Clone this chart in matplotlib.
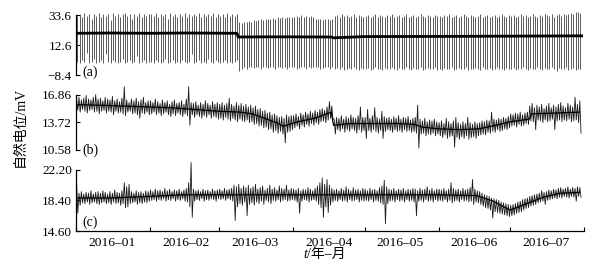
import matplotlib
matplotlib.use('Agg')
import matplotlib.pyplot as plt
import matplotlib.dates as md
import matplotlib.ticker as mt
import numpy as np
import pandas as pd

plt.rcParams['font.family'] = ['Liberation Serif', 'Noto Sans CJK SC']

# ---- panel (a): daily spike tops / bottoms, plus the baseline ----
a_top = (
    [33, 34, 32, 35, 33, 34, 31, 34, 33, 35, 32, 34, 33, 34, 30, 35, 33, 34, 32, 34,
     35, 33, 34, 31, 34, 33, 35, 32, 34, 33, 34] +
    [34, 33, 35, 32, 34, 33, 34, 31, 35, 33, 34, 32, 34, 33, 35, 32, 34, 33, 34, 33,
     35, 32, 34, 33, 34, 33, 35, 32, 34] +
    [33, 34, 32, 35, 33, 34, 33, 34, 28.5, 28, 29, 28.5, 29.5, 29, 30, 29.5, 30, 30.5,
     30, 31, 30.5, 31, 31.5, 31, 32, 31.5, 32, 31.5, 32.5, 32, 32.5] +
    [32.5, 33, 32, 33.5, 32.5, 33, 32, 33, 32.5, 31, 30.5, 31, 30, 30.5, 31, 30, 30.5,
     33, 33.5, 32.5, 34, 33, 33.5, 32.5, 33, 34, 32.5, 33.5, 33, 32] +
    [33, 33.5, 32.5, 33, 34, 32.5, 33.5, 33, 32, 33.5, 33, 34, 32.5, 33, 33.5, 32, 33,
     34, 32.5, 33, 33.5, 32.5, 33, 34, 33, 32.5, 33.5, 33, 32, 33.5, 33] +
    [33, 32.5, 33.5, 33, 34, 32.5, 33, 33.5, 32, 33, 34, 33, 32.5, 33.5, 33, 32, 33,
     34, 32.5, 33, 33.5, 32.5, 33, 33.5, 32, 33, 34, 33, 32.5, 33.5] +
    [33, 33.5, 32.5, 33, 34, 33, 33.5, 32.5, 33, 34, 33, 32.5, 33.5, 33, 34, 33.5, 33,
     34, 32.5, 33.5, 34, 33, 34.5, 33.5, 34, 35, 34.5, 35.5, 36, 35]
)
a_bot = (
    [1, 0, 2, 1, 7, 0, 1, 3, 0, 1, 2, 0, 6, 1, 0, 2, 1, 0, 1, 3, 0, 1, 2, 0, 1, 5, 0,
     1, 2, 0, 1] +
    [1, 0, 2, 1, 0, 1, 3, 0, 1, 2, 0, 1, 0, 2, 1, 0, 1, 6, 0, 1, 2, 0, 1, 0, 3, 1, 0,
     2, 1] +
    [0, 1, 2, 0, 1, 0, 1, 2, -5.5, -4, -3, -4, -2.5, -3, -3.5, -2.5, -3, -4, -2.5, -3,
     -3.5, -2.5, -3, -4, -3, -2.5, -3.5, -3, -4, -2.5, -3] +
    [-3, -4, -3.5, -2.5, -3, -4, -3, -3.5, -2.5, -3, -3, -4, -3.5, -3, -2.5, -4, -3,
     -4.5, -3.5, -4, -3, -5, -4, -3.5, -4.5, -3, -4, -5, -3.5, -4] +
    [-4, -3.5, -5, -4, -3, -4.5, -4, -5, -3.5, -4, -4.5, -3, -4, -5, -3.5, -4, -4.5,
     -3, -4, -5, -3.5, -4, -4.5, -3, -5, -4, -3.5, -4.5, -4, -3, -5] +
    [-4, -5, -3.5, -4, -4.5, -3, -5, -4, -3.5, -4.5, -4, -3, -5, -4, -4.5, -3.5, -4,
     -5, -3, -4.5, -4, -3.5, -5, -4, -3, -4.5, -4, -5, -3.5, -4] +
    [-4, -3.5, -5, -4, -4.5, -3, -4, -5, -3.5, -4, -4.5, -3, -4, -5, -3.5, -4, -4.5,
     -3, -4, -5.5, -3.5, -4, -4.5, -3, -5, -4, -3.5, -5, -4.5, -4]
)
a_base_dates = ['2016-01-01 00:00', '2016-01-15 00:00', '2016-02-01 00:00',
                '2016-02-15 00:00', '2016-03-08 12:00', '2016-03-09 00:00',
                '2016-03-20 00:00', '2016-04-01 00:00', '2016-04-17 00:00',
                '2016-04-18 00:00', '2016-05-01 00:00', '2016-06-01 00:00',
                '2016-07-01 00:00', '2016-07-31 00:00']
a_base = [20.8, 21.0, 20.8, 21.0, 20.8, 18.2, 18.3, 18.3, 18.2, 17.6, 18.5, 18.6, 18.8, 19.0]

# ---- panel (b): daily max / min and the running level ----
b_hi = (
    [16.4, 16.6, 16.3, 16.5, 16.8, 16.4, 16.3, 16.6, 16.9, 16.4, 16.5, 16.2, 16.6, 16.4,
     16.3, 16.7, 16.2, 16.4, 16.1, 16.5, 17.8, 16.3, 16.0, 16.4, 16.2, 16.5, 16.1, 16.3,
     16.6, 16.0, 16.2] +
    [16.2, 16.0, 16.4, 16.1, 15.9, 16.3, 16.0, 16.2, 15.8, 16.1, 16.3, 15.9, 16.0, 16.2,
     15.8, 16.4, 17.8, 16.0, 15.9, 16.1, 15.7, 16.0, 15.8, 16.2, 15.9, 15.7, 16.1, 15.8,
     16.0] +
    [15.8, 16.0, 15.7, 15.9, 16.5, 15.8, 15.6, 16.0, 15.7, 15.9, 15.6, 15.8, 15.5, 15.7,
     15.4, 15.6, 15.2, 15.3, 15.0, 15.1, 14.8, 14.9, 14.6, 14.7, 14.5, 14.3, 14.4, 14.2,
     14.6, 14.4, 14.5] +
    [14.5, 14.7, 14.4, 14.8, 14.6, 14.9, 14.7, 15.0, 14.8, 15.1, 14.9, 15.2, 15.3, 15.1,
     15.5, 16.1, 15.6, 14.1, 14.3, 14.2, 14.5, 14.1, 14.4, 14.2, 14.6, 14.3, 14.2, 14.5,
     15.5, 14.3] +
    [14.3, 15.2, 14.2, 14.5, 15.4, 14.3, 14.1, 15.0, 14.4, 14.2, 14.3, 14.1, 14.4, 14.2,
     14.5, 14.1, 14.3, 14.2, 14.4, 14.0, 14.2, 14.3, 15.7, 14.1, 13.9, 14.2, 13.8, 14.0,
     13.9, 14.1, 13.8] +
    [13.7, 13.9, 13.6, 14.2, 13.8, 13.6, 13.9, 14.3, 13.7, 13.5, 13.8, 13.6, 14.3, 13.7,
     13.5, 13.8, 13.6, 13.7, 13.9, 13.8, 14.0, 13.9, 14.9, 14.1, 14.0, 14.2, 14.1, 14.3,
     14.2, 14.4] +
    [14.7, 14.6, 14.8, 14.7, 14.9, 14.6, 14.8, 14.9, 15.6, 15.9, 15.4, 15.7, 15.5, 15.8,
     15.3, 15.6, 15.9, 15.4, 15.7, 15.5, 15.8, 16.0, 15.6, 15.4, 15.9, 15.7, 15.5, 16.6,
     15.8, 16.2]
)
b_lo = (
    [15.1, 14.9, 15.2, 15.0, 14.8, 15.1, 15.2, 14.9, 15.0, 14.7, 15.0, 15.1, 14.8, 15.0,
     14.9, 14.6, 15.0, 14.8, 14.9, 14.7, 14.5, 14.9, 15.0, 14.7, 14.8, 14.6, 14.2, 14.8,
     14.7, 14.9, 14.6] +
    [14.7, 14.9, 14.6, 14.8, 14.5, 14.7, 14.9, 14.6, 14.4, 14.7, 14.5, 14.8, 14.6, 14.4,
     14.7, 14.5, 13.4, 14.6, 14.3, 14.6, 14.4, 14.2, 14.5, 14.3, 14.6, 14.2, 14.4, 14.3,
     14.1] +
    [14.2, 14.0, 14.3, 14.1, 13.9, 14.2, 14.0, 13.8, 14.1, 13.9, 13.8, 14.0, 13.7, 13.8,
     13.5, 13.6, 13.3, 13.4, 13.1, 13.2, 12.9, 13.0, 12.6, 12.8, 12.5, 12.7, 12.4, 11.4,
     12.6, 12.7, 12.9] +
    [13.1, 13.3, 13.0, 13.4, 13.2, 13.5, 13.3, 13.6, 13.4, 13.7, 13.5, 13.8, 13.9, 13.7,
     14.0, 14.2, 14.1, 12.4, 12.9, 12.7, 13.0, 12.6, 12.9, 12.7, 13.0, 12.8, 12.5, 12.9,
     12.6, 12.8] +
    [11.9, 12.8, 12.6, 12.9, 12.7, 12.5, 12.8, 11.9, 12.7, 12.9, 12.8, 12.6, 12.9, 12.7,
     12.8, 12.6, 12.9, 12.7, 12.8, 12.6, 12.7, 12.5, 10.8, 12.4, 12.5, 12.2, 12.4, 12.3,
     12.5, 12.2, 12.4] +
    [12.2, 12.0, 12.3, 11.9, 12.1, 12.2, 10.9, 12.0, 11.8, 12.1, 11.9, 12.2, 11.8, 12.0,
     12.1, 11.9, 12.2, 12.3, 12.4, 12.3, 12.6, 12.5, 12.7, 12.6, 12.9, 12.7, 12.8, 13.0,
     12.9, 13.1] +
    [13.3, 13.4, 13.2, 13.5, 13.3, 13.4, 13.6, 13.5, 13.9, 13.8, 12.9, 14.0, 13.9, 13.7,
     14.0, 13.8, 13.9, 14.1, 12.9, 13.9, 14.0, 13.8, 14.0, 13.9, 14.1, 13.8, 13.9, 14.0,
     13.7, 12.5]
)
b_mid_dates = ['2016-01-01', '2016-01-10', '2016-01-20', '2016-01-31', '2016-02-10',
               '2016-02-20', '2016-03-01', '2016-03-10', '2016-03-15', '2016-03-20',
               '2016-03-25', '2016-03-28', '2016-04-03', '2016-04-10', '2016-04-17',
               '2016-04-18', '2016-04-25', '2016-05-05', '2016-05-15', '2016-05-22',
               '2016-05-25', '2016-06-01', '2016-06-10', '2016-06-18', '2016-06-25',
               '2016-07-01', '2016-07-09', '2016-07-10', '2016-07-20', '2016-07-30']
b_mid = [15.75, 15.7, 15.6, 15.5, 15.4, 15.2, 15.0, 14.9, 14.7, 14.2, 13.7, 13.3, 13.8,
         14.2, 14.9, 13.4, 13.6, 13.6, 13.6, 13.5, 13.2, 13.0, 12.9, 13.0, 13.4, 13.8,
         14.1, 14.7, 14.8, 14.9]

# ---- panel (c) ----
c_hi = (
    [20.6, 19.3, 19.5, 19.2, 19.4, 19.3, 19.6, 19.2, 19.4, 19.5, 19.3, 19.6, 19.4, 19.2,
     19.5, 19.3, 19.7, 19.4, 19.3, 19.6, 20.6, 20.1, 20.4, 19.5, 19.3, 19.6, 19.4, 19.5,
     19.3, 19.6, 19.5] +
    [19.7, 19.5, 19.8, 19.6, 19.7, 19.5, 19.9, 19.6, 19.8, 19.5, 19.7, 19.6, 19.8, 19.5,
     19.7, 19.9, 20.6, 23.1, 19.8, 19.6, 19.7, 19.5, 19.8, 19.6, 19.7, 19.5, 19.8, 19.6,
     19.7] +
    [19.8, 19.6, 19.9, 19.7, 19.8, 19.9, 20.3, 20.1, 20.4, 19.9, 20.2, 20.0, 20.3, 19.9,
     20.1, 20.4, 19.8, 20.0, 20.2, 19.7, 19.9, 20.3, 19.8, 20.0, 19.7, 20.2, 19.9, 19.8,
     20.3, 19.7, 19.9] +
    [19.8, 19.7, 19.9, 19.6, 19.8, 19.7, 20.0, 19.8, 19.6, 19.9, 20.2, 20.6, 21.2, 20.4,
     21.0, 20.3, 19.9, 19.7, 19.8, 19.6, 19.9, 19.7, 20.1, 19.8, 19.6, 20.0, 19.7, 19.8,
     19.6, 19.9] +
    [19.8, 19.6, 19.9, 19.7, 19.8, 19.6, 20.0, 20.2, 20.9, 20.1, 19.8, 19.7, 19.9, 19.6,
     19.8, 19.7, 19.9, 19.6, 19.8, 19.7, 19.9, 19.8, 19.6, 19.9, 19.7, 19.8, 20.1, 19.7,
     19.9, 19.6, 19.8] +
    [19.8, 19.7, 19.9, 19.6, 19.8, 20.6, 19.9, 19.7, 19.8, 19.6, 19.9, 19.7, 19.8, 20.0,
     21.0, 19.8, 19.6, 19.5, 19.3, 19.1, 19.0, 18.9, 18.7, 18.6, 18.5, 18.4, 18.2, 18.1,
     18.0, 17.9] +
    [17.8, 17.9, 18.0, 18.2, 18.3, 18.5, 18.6, 18.7, 18.9, 19.0, 19.1, 19.2, 19.3, 19.6,
     19.4, 19.5, 19.7, 19.6, 19.8, 19.7, 19.9, 20.0, 19.8, 19.9, 20.1, 19.8, 20.0, 19.9,
     20.1, 20.0]
)
c_lo = (
    [16.8, 17.8, 18.1, 18.0, 18.2, 17.9, 18.1, 18.2, 18.0, 17.9, 18.1, 18.2, 18.0, 18.1,
     17.9, 18.2, 18.0, 18.1, 17.8, 18.0, 17.5, 17.6, 18.0, 18.1, 18.2, 17.9, 18.1, 18.0,
     18.2, 18.1, 18.3] +
    [18.4, 18.5, 18.3, 18.5, 18.4, 18.6, 18.3, 18.5, 18.4, 18.6, 18.3, 18.5, 18.4, 18.6,
     18.3, 18.2, 17.6, 16.3, 18.3, 18.5, 18.4, 18.6, 18.3, 18.5, 18.4, 18.6, 18.5, 18.3,
     18.6] +
    [18.5, 18.6, 18.4, 18.6, 18.5, 18.3, 15.9, 17.6, 18.0, 17.8, 18.2, 16.5, 17.9, 18.1,
     17.8, 18.2, 18.0, 18.3, 17.9, 18.4, 18.2, 18.0, 18.4, 18.3, 18.5, 18.2, 18.4, 18.5,
     18.3, 18.4, 18.5] +
    [18.4, 18.2, 16.8, 18.3, 18.5, 18.4, 18.2, 18.4, 18.5, 18.3, 17.9, 17.5, 16.3, 17.6,
     16.9, 17.8, 18.2, 18.4, 18.3, 18.5, 18.3, 18.4, 18.2, 18.5, 18.3, 18.4, 18.5, 18.2,
     18.4, 18.3] +
    [18.4, 18.3, 18.5, 18.2, 18.4, 18.3, 18.1, 17.9, 15.5, 18.0, 18.3, 18.4, 18.2, 18.5,
     18.3, 18.4, 18.2, 18.5, 18.3, 18.4, 18.2, 16.5, 18.3, 18.4, 18.2, 18.5, 18.3, 18.4,
     18.2, 18.5, 18.3] +
    [18.4, 18.3, 18.5, 18.2, 18.4, 18.1, 18.3, 18.4, 18.2, 18.5, 18.3, 18.4, 18.2, 18.3,
     17.9, 18.2, 18.1, 17.9, 17.7, 17.5, 17.4, 17.2, 16.2, 17.0, 16.9, 16.8, 16.7, 16.6,
     16.5, 16.4] +
    [16.5, 16.6, 16.8, 16.9, 17.0, 17.2, 17.4, 17.5, 17.7, 17.8, 17.9, 18.1, 18.2, 18.3,
     17.9, 18.4, 18.5, 18.6, 18.7, 18.6, 18.8, 18.7, 18.9, 18.8, 18.7, 18.9, 18.8, 18.3,
     18.9, 18.8]
)
c_mid_dates = ['2016-01-01', '2016-01-15', '2016-02-01', '2016-02-15', '2016-03-01',
               '2016-04-01', '2016-05-01', '2016-06-01', '2016-06-17', '2016-06-24',
               '2016-07-01', '2016-07-08', '2016-07-15', '2016-07-22', '2016-07-30']
c_mid = [18.7, 18.7, 18.9, 19.1, 19.1, 19.1, 19.1, 19.1, 19.0, 18.3, 17.2, 18.0, 18.8,
         19.3, 19.4]

a_ticks = [-8.4, 12.6, 33.6]
b_ticks = [10.58, 13.72, 16.86]
c_ticks = [14.60, 18.40, 22.20]

days = pd.date_range('2016-01-01 12:00', periods=len(a_top), freq='D')

fig = plt.figure(figsize=(6.14, 2.72), dpi=100)
W_PX, H_PX = 614, 272


def px_axes(top, bottom, left=76, right=584):
    return fig.add_axes([left / W_PX, 1 - bottom / H_PX,
                         (right - left) / W_PX, (bottom - top) / H_PX])


ax_a = px_axes(11, 75)
ax_b = px_axes(85, 150)
ax_c = px_axes(161, 231)


def zigzag(ax, hi, lo):
    t = np.ravel(np.column_stack([(days - pd.Timedelta(hours=6)).values,
                                  (days + pd.Timedelta(hours=6)).values]))
    y = np.ravel(np.column_stack([hi, lo]))
    ax.plot(t, y, color='#1a1a1a', lw=0.6)


# (a)
ax_a.vlines(days, a_bot, a_top, color='#5a5a5a', lw=0.7)
ax_a.plot(pd.to_datetime(a_base_dates), a_base, color='k', lw=2.0)
ax_a.set_ylim(-8.4, 36.4)

# (b)
zigzag(ax_b, b_hi, b_lo)
ax_b.plot(pd.to_datetime(b_mid_dates), b_mid, color='k', lw=0.9)
ax_b.set_ylim(10.58, 18.0)

# (c)
zigzag(ax_c, c_hi, c_lo)
ax_c.plot(pd.to_datetime(c_mid_dates), c_mid, color='k', lw=0.9)
ax_c.set_ylim(14.60, 23.3)

fmt1 = mt.FuncFormatter(lambda v, p: f'{v:.1f}'.replace('-', '\u2212'))
fmt2 = mt.FuncFormatter(lambda v, p: f'{v:.2f}')

for ax, ticks, fmt, lab, ly in [(ax_a, a_ticks, fmt1, '(a)', 0.05),
                                (ax_b, b_ticks, fmt2, '(b)', 0.0),
                                (ax_c, c_ticks, fmt2, '(c)', 0.13)]:
    ax.set_xlim(pd.Timestamp('2016-01-01'), pd.Timestamp('2016-08-01'))
    for s in ['top', 'right']:
        ax.spines[s].set_visible(False)
    ax.spines['left'].set_bounds(ticks[0], ticks[-1])
    ax.spines['left'].set_linewidth(0.9)
    ax.yaxis.set_major_locator(mt.FixedLocator(ticks))
    ax.yaxis.set_major_formatter(fmt)
    ax.tick_params(axis='y', direction='in', length=3, width=0.8, pad=3, labelsize=9.5)
    ax.text(0.012, ly, lab, transform=ax.transAxes, fontsize=10, va='center', ha='left')
    ax.patch.set_visible(False)

for ax in (ax_a, ax_b):
    ax.spines['bottom'].set_visible(False)
    ax.tick_params(axis='x', which='both', bottom=False, labelbottom=False)

ax_c.spines['bottom'].set_linewidth(0.9)
ax_c.xaxis.set_major_locator(md.MonthLocator())
ax_c.xaxis.set_major_formatter(mt.NullFormatter())
ax_c.xaxis.set_minor_locator(md.MonthLocator(bymonthday=16))
ax_c.xaxis.set_minor_formatter(md.DateFormatter('%Y\u2013%m'))
ax_c.tick_params(axis='x', which='major', direction='in', length=3, width=0.8)
ax_c.tick_params(axis='x', which='minor', length=0, pad=4, labelsize=9.7)

fig.text(20 / W_PX, 1 - 127 / H_PX, '自然电位/mV', rotation=90, ha='center',
         va='center', fontsize=10)
fig.text(307 / W_PX, 1 - 254 / H_PX, 't', style='italic', ha='right', va='center',
         fontsize=10)
fig.text(307 / W_PX, 1 - 254 / H_PX, '/年\u2013月', ha='left', va='center', fontsize=10)

fig.savefig('out.png', dpi=100)
